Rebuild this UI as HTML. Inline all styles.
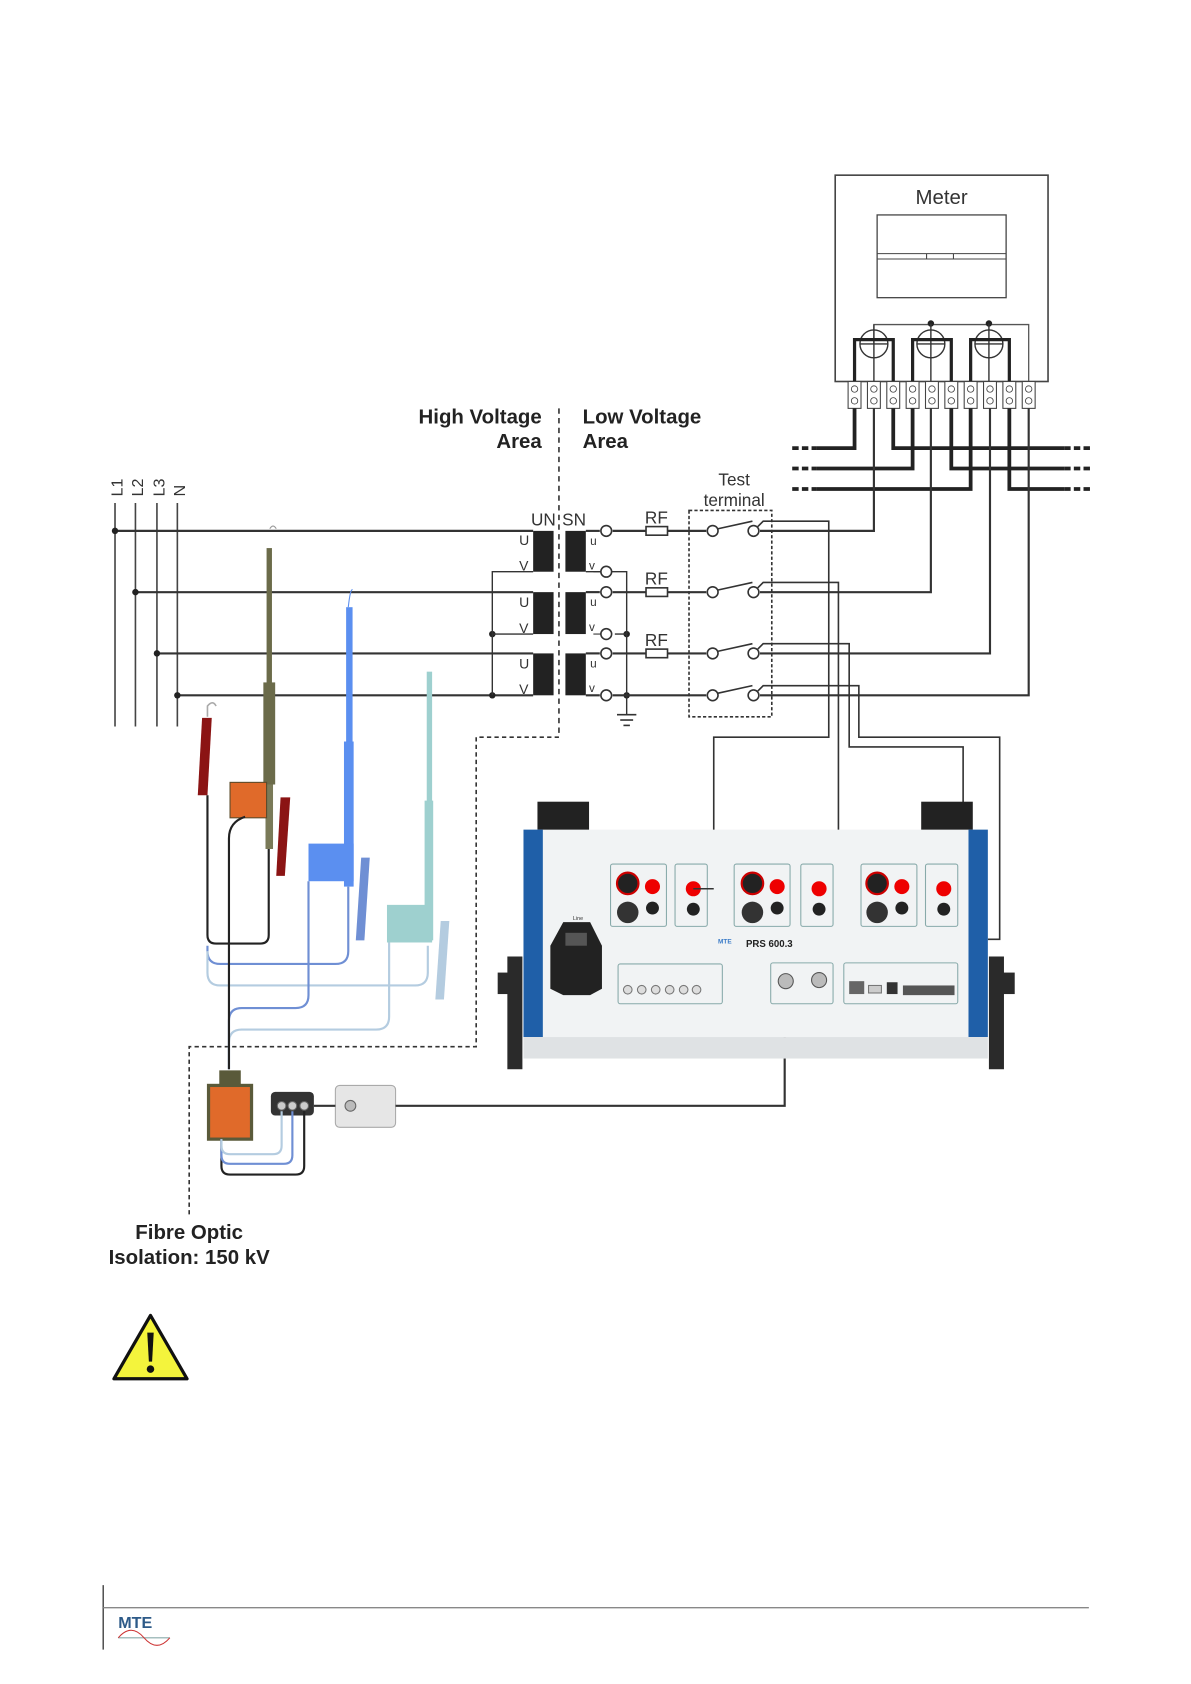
<!DOCTYPE html>
<html><head><meta charset="utf-8"><style>
html,body{margin:0;padding:0;background:#fff}
svg{display:block}
text{font-family:"Liberation Sans",sans-serif}
</style></head><body>
<svg width="1191" height="1684" viewBox="0 0 1108 1567" preserveAspectRatio="none" xmlns="http://www.w3.org/2000/svg">
<rect width="1108" height="1567" fill="#fff"/>
<!-- Meter -->
<rect x="777" y="163" width="198" height="192" fill="#fff" stroke="#444" stroke-width="1.5"/>
<text x="876" y="190" font-size="19" text-anchor="middle" fill="#333">Meter</text>
<rect x="816" y="200" width="120" height="77" fill="#fff" stroke="#444" stroke-width="1.2"/>
<line x1="816" y1="236" x2="936" y2="236" stroke="#444"/><line x1="816" y1="241" x2="936" y2="241" stroke="#444"/>
<line x1="862" y1="236" x2="862" y2="241" stroke="#444"/><line x1="887" y1="236" x2="887" y2="241" stroke="#444"/>
<polyline points="813,320 813,302 957,302 957,355" fill="none" stroke="#555" stroke-width="1.2"/>
<circle cx="866" cy="301" r="3" fill="#222"/><circle cx="920" cy="301" r="3" fill="#222"/>
<g fill="none" stroke="#333" stroke-width="1.3">
<circle cx="813" cy="320" r="13"/><circle cx="866" cy="320" r="13"/><circle cx="920" cy="320" r="13"/>
<line x1="800" y1="320" x2="826" y2="320"/><line x1="853" y1="320" x2="879" y2="320"/><line x1="907" y1="320" x2="933" y2="320"/>
<line x1="866" y1="301" x2="866" y2="355"/><line x1="920" y1="301" x2="920" y2="355"/><line x1="813" y1="302" x2="813" y2="355"/>
</g>
<g fill="none" stroke="#222" stroke-width="3">
<polyline points="795,355 795,316 831,316 831,355"/>
<polyline points="849,355 849,316 885,316 885,355"/>
<polyline points="903,355 903,316 939,316 939,355"/>
</g>
<g fill="#fff" stroke="#444" stroke-width="1">
<rect x="789" y="355" width="12" height="25"/><rect x="807" y="355" width="12" height="25"/><rect x="825" y="355" width="12" height="25"/><rect x="843" y="355" width="12" height="25"/><rect x="861" y="355" width="12" height="25"/><rect x="879" y="355" width="12" height="25"/><rect x="897" y="355" width="12" height="25"/><rect x="915" y="355" width="12" height="25"/><rect x="933" y="355" width="12" height="25"/><rect x="951" y="355" width="12" height="25"/>
</g>
<g fill="none" stroke="#444" stroke-width="0.8">
<circle cx="795" cy="362" r="3"/><circle cx="795" cy="373" r="3"/><circle cx="813" cy="362" r="3"/><circle cx="813" cy="373" r="3"/><circle cx="831" cy="362" r="3"/><circle cx="831" cy="373" r="3"/><circle cx="849" cy="362" r="3"/><circle cx="849" cy="373" r="3"/><circle cx="867" cy="362" r="3"/><circle cx="867" cy="373" r="3"/><circle cx="885" cy="362" r="3"/><circle cx="885" cy="373" r="3"/><circle cx="903" cy="362" r="3"/><circle cx="903" cy="373" r="3"/><circle cx="921" cy="362" r="3"/><circle cx="921" cy="373" r="3"/><circle cx="939" cy="362" r="3"/><circle cx="939" cy="373" r="3"/><circle cx="957" cy="362" r="3"/><circle cx="957" cy="373" r="3"/>
</g>
<!-- bus lines -->
<g fill="none" stroke="#222" stroke-width="3.5">
<polyline points="760,417 795,417 795,380"/>
<polyline points="760,436 849,436 849,380"/>
<polyline points="760,455 903,455 903,380"/>
<polyline points="831,380 831,417 990,417"/>
<polyline points="885,380 885,436 990,436"/>
<polyline points="939,380 939,455 990,455"/>
</g>
<g stroke="#222" stroke-width="3.5" stroke-dasharray="6,3">
<line x1="737" y1="417" x2="760" y2="417"/><line x1="737" y1="436" x2="760" y2="436"/><line x1="737" y1="455" x2="760" y2="455"/>
<line x1="990" y1="417" x2="1014" y2="417"/><line x1="990" y1="436" x2="1014" y2="436"/><line x1="990" y1="455" x2="1014" y2="455"/>
</g>
<!-- labels -->
<text x="504" y="394" font-size="19" font-weight="bold" text-anchor="end" fill="#222">High Voltage</text>
<text x="504" y="417" font-size="19" font-weight="bold" text-anchor="end" fill="#222">Area</text>
<text x="542" y="394" font-size="19" font-weight="bold" fill="#222">Low Voltage</text>
<text x="542" y="417" font-size="19" font-weight="bold" fill="#222">Area</text>
<text x="683" y="452" font-size="16" text-anchor="middle" fill="#333">Test</text>
<text x="683" y="471" font-size="16" text-anchor="middle" fill="#333">terminal</text>
<g font-size="15" fill="#333">
<text transform="translate(114,462) rotate(-90)">L1</text>
<text transform="translate(133,462) rotate(-90)">L2</text>
<text transform="translate(153,462) rotate(-90)">L3</text>
<text transform="translate(172,462) rotate(-90)">N</text>
</g>
<!-- phase verticals -->
<g stroke="#444" stroke-width="1.5">
<line x1="107" y1="468" x2="107" y2="676"/><line x1="126" y1="468" x2="126" y2="676"/><line x1="146" y1="468" x2="146" y2="676"/><line x1="165" y1="468" x2="165" y2="676"/>
</g>
<!-- phase horizontals -->
<g stroke="#333" stroke-width="2">
<line x1="107" y1="494" x2="496" y2="494"/><line x1="126" y1="551" x2="496" y2="551"/><line x1="146" y1="608" x2="496" y2="608"/><line x1="165" y1="647" x2="496" y2="647"/>
</g>
<g fill="#222"><circle cx="107" cy="494" r="3"/><circle cx="126" cy="551" r="3"/><circle cx="146" cy="608" r="3"/><circle cx="165" cy="647" r="3"/><circle cx="458" cy="590" r="3"/><circle cx="458" cy="647" r="3"/><circle cx="583" cy="590" r="3"/><circle cx="583" cy="647" r="3"/></g>
<g fill="none" stroke="#333" stroke-width="1.3">
<polyline points="496,532 458,532 458,647"/>
<line x1="458" y1="590" x2="496" y2="590"/>
<polyline points="545,532 583,532 583,665"/>
<line x1="572" y1="590" x2="583" y2="590"/>
</g>
<g stroke="#333" stroke-width="1.5"><line x1="574" y1="665" x2="592" y2="665"/><line x1="577" y1="670" x2="589" y2="670"/><line x1="580" y1="675" x2="586" y2="675"/></g>
<!-- transformers -->
<g fill="#222">
<rect x="496" y="494" width="19" height="38"/><rect x="526" y="494" width="19" height="38"/>
<rect x="496" y="551" width="19" height="39"/><rect x="526" y="551" width="19" height="39"/>
<rect x="496" y="608" width="19" height="39"/><rect x="526" y="608" width="19" height="39"/>
</g>
<g font-size="13" fill="#333">
<text x="483" y="507">U</text><text x="483" y="531">V</text><text x="483" y="565">U</text><text x="483" y="589">V</text><text x="483" y="622">U</text><text x="483" y="646">V</text>
<text x="549" y="507" font-size="11">u</text><text x="548" y="530" font-size="11">v</text><text x="549" y="564" font-size="11">u</text><text x="548" y="587" font-size="11">v</text><text x="549" y="621" font-size="11">u</text><text x="548" y="644" font-size="11">v</text>
</g>
<text x="494" y="489" font-size="16" fill="#333">UN</text><text x="523" y="489" font-size="16" fill="#333">SN</text>
<!-- secondary lines -->
<g stroke="#333" stroke-width="2" fill="none">
<line x1="545" y1="494" x2="558" y2="494"/><line x1="545" y1="551" x2="558" y2="551"/><line x1="545" y1="608" x2="558" y2="608"/><line x1="545" y1="647" x2="558" y2="647"/>
<line x1="570" y1="494" x2="657" y2="494"/><line x1="570" y1="551" x2="657" y2="551"/><line x1="570" y1="608" x2="657" y2="608"/><line x1="570" y1="647" x2="657" y2="647"/>
<polyline points="707,494 813,494 813,380"/>
<polyline points="707,551 866,551 866,380"/>
<polyline points="707,608 921,608 921,380"/>
<polyline points="707,647 957,647 957,380"/>
</g>
<g fill="#fff" stroke="#333" stroke-width="1.5">
<circle cx="564" cy="494" r="5"/><circle cx="564" cy="532" r="5"/><circle cx="564" cy="551" r="5"/><circle cx="564" cy="590" r="5"/><circle cx="564" cy="608" r="5"/><circle cx="564" cy="647" r="5"/>
<rect x="601" y="490" width="20" height="8"/><rect x="601" y="547" width="20" height="8"/><rect x="601" y="604" width="20" height="8"/>
</g>
<g font-size="16" fill="#333"><text x="600" y="487">RF</text><text x="600" y="544">RF</text><text x="600" y="601">RF</text></g>
<line x1="552" y1="532" x2="559" y2="532" stroke="#333"/><line x1="552" y1="590" x2="559" y2="590" stroke="#333"/>
<!-- test terminal -->
<rect x="641" y="475" width="77" height="192" fill="none" stroke="#333" stroke-width="1.5" stroke-dasharray="3,2"/>
<g fill="#fff" stroke="#333" stroke-width="1.5">
<circle cx="663" cy="494" r="5"/><circle cx="701" cy="494" r="5"/><circle cx="663" cy="551" r="5"/><circle cx="701" cy="551" r="5"/><circle cx="663" cy="608" r="5"/><circle cx="701" cy="608" r="5"/><circle cx="663" cy="647" r="5"/><circle cx="701" cy="647" r="5"/>
</g>
<g stroke="#333" stroke-width="1.5" fill="none">
<line x1="668" y1="492" x2="700" y2="485"/><line x1="668" y1="549" x2="700" y2="542"/><line x1="668" y1="606" x2="700" y2="599"/><line x1="668" y1="645" x2="700" y2="638"/>
<polyline points="705,490 710,485 771,485 771,686 664,686 664,827 645,827"/>
<polyline points="705,547 710,542 780,542 780,827 762,827"/>
<polyline points="705,604 710,599 790,599 790,695 896,695 896,827 878,827"/>
<polyline points="705,643 710,638 799,638 799,686 930,686 930,874 762,874 762,846"/>
<polyline points="645,846 660,862 742,862 762,846 778,862 862,862 878,846"/>
</g>
<!-- HV dashed boundary -->
<g stroke="#333" stroke-width="1.5" fill="none">
<line x1="520" y1="380" x2="520" y2="686" stroke-dasharray="5,4"/>
<polyline points="520,686 443,686 443,974 176,974 176,1130" stroke-dasharray="4,3"/>
</g>
<!-- probes -->
<g>
<path d="M251,492 q3,-5 6,0" fill="none" stroke="#999"/>
<rect x="248" y="510" width="5" height="130" fill="#6b6b4a"/>
<rect x="245" y="635" width="11" height="95" fill="#6b6b4a"/>
<rect x="247" y="730" width="7" height="60" fill="#7a7a58"/>
<rect x="214" y="728" width="34" height="33" fill="#e06a2a" stroke="#5a4a2a"/>
<polygon points="261,742 270,742 265,815 257,815" fill="#8b1414"/>
<polygon points="188,668 197,668 193,740 184,740" fill="#8b1414"/>
<path d="M193,667 v-10 q5,-6 8,0" fill="none" stroke="#aaa" stroke-width="1.5"/>
<rect x="322" y="565" width="6" height="130" fill="#5b8ff0"/>
<rect x="320" y="690" width="9" height="135" fill="#5b8ff0"/>
<rect x="287" y="785" width="42" height="35" fill="#5b8ff0"/>
<polygon points="336,798 344,798 339,875 331,875" fill="#6f8fd4"/>
<path d="M324,565 q2,-18 4,-16" fill="none" stroke="#5b8ff0"/>
<rect x="397" y="625" width="5" height="125" fill="#9ed0cf"/>
<rect x="395" y="745" width="8" height="130" fill="#9ed0cf"/>
<rect x="360" y="842" width="42" height="35" fill="#9ed0cf"/>
<polygon points="410,857 418,857 413,930 405,930" fill="#b4cce0"/>
</g>
<g fill="none" stroke-width="2">
<path d="M193,740 V870 q0,8 8,8 H242 q8,0 8,-8 V790" stroke="#222"/>
<path d="M193,880 v5 q0,12 12,12 H312 q12,0 12,-12 V825" stroke="#6f8fd4"/>
<path d="M193,885 v20 q0,12 12,12 H386 q12,0 12,-12 V880" stroke="#b4cce0"/>
<path d="M213,995 V950 q0,-12 12,-12 H275 q12,0 12,-12 V820" stroke="#6f8fd4"/>
<path d="M213,995 V970 q0,-12 12,-12 H350 q12,0 12,-12 V877" stroke="#b4cce0"/>
<path d="M228,760 q-15,5 -15,20 V995" stroke="#222"/>
</g>
<!-- SLC -->
<rect x="204" y="996" width="20" height="20" fill="#5a5a3a"/>
<rect x="194" y="1010" width="40" height="50" fill="#e06a2a" stroke="#5a5a3a" stroke-width="3"/>
<rect x="252" y="1016" width="40" height="22" rx="4" fill="#333"/>
<circle cx="262" cy="1029" r="4" fill="#ccc" stroke="#666"/><circle cx="272" cy="1029" r="4" fill="#ccc" stroke="#666"/><circle cx="283" cy="1029" r="4" fill="#ccc" stroke="#666"/>
<rect x="312" y="1010" width="56" height="39" rx="4" fill="#e6e6e6" stroke="#aaa"/>
<circle cx="326" cy="1029" r="5" fill="#bbb" stroke="#666"/>
<g fill="none" stroke-width="2">
<path d="M206,1060 V1085 q0,8 8,8 H275 q8,0 8,-8 V1034" stroke="#222"/>
<path d="M206,1060 V1075 q0,8 8,8 H264 q8,0 8,-8 V1034" stroke="#6f8fd4"/>
<path d="M206,1060 V1066 q0,8 8,8 H254 q8,0 8,-8 V1034" stroke="#b4cce0"/>
<line x1="292" y1="1029" x2="312" y2="1029" stroke="#333"/>
<polyline points="368,1029 730,1029 730,915" stroke="#333"/>
</g>
<text x="176" y="1153" font-size="19" font-weight="bold" text-anchor="middle" fill="#222">Fibre Optic</text>
<text x="176" y="1176" font-size="19" font-weight="bold" text-anchor="middle" fill="#222">Isolation: 150 kV</text>
<!-- PRS device -->
<rect x="500" y="746" width="48" height="28" fill="#222"/>
<rect x="857" y="746" width="48" height="28" fill="#222"/>
<rect x="487" y="772" width="432" height="193" fill="#f1f3f4"/>
<rect x="487" y="772" width="18" height="193" fill="#1f5fa8"/>
<rect x="901" y="772" width="18" height="193" fill="#1f5fa8"/>
<rect x="487" y="965" width="432" height="20" fill="#dfe2e4"/>
<path d="M472,890 h14 v105 h-14 z" fill="#2a2a2a"/>
<path d="M920,890 h14 v105 h-14 z" fill="#2a2a2a"/>
<rect x="463" y="905" width="12" height="20" fill="#2a2a2a"/><rect x="932" y="905" width="12" height="20" fill="#2a2a2a"/>
<g fill="none" stroke="#8aa" stroke-width="1">
<rect x="568" y="804" width="52" height="58" rx="2"/><rect x="628" y="804" width="30" height="58" rx="2"/>
<rect x="683" y="804" width="52" height="58" rx="2"/><rect x="745" y="804" width="30" height="58" rx="2"/>
<rect x="801" y="804" width="52" height="58" rx="2"/><rect x="861" y="804" width="30" height="58" rx="2"/>
<rect x="575" y="897" width="97" height="37" rx="2"/><rect x="717" y="896" width="58" height="38" rx="2"/><rect x="785" y="896" width="106" height="38" rx="2"/>
</g>
<g>
<circle cx="584" cy="822" r="10" fill="#222" stroke="#c00" stroke-width="2"/><circle cx="584" cy="849" r="10" fill="#333"/>
<circle cx="607" cy="825" r="7" fill="#e00"/><circle cx="607" cy="845" r="6" fill="#222"/>
<circle cx="645" cy="827" r="7" fill="#e00"/><circle cx="645" cy="846" r="6" fill="#222"/>
<circle cx="700" cy="822" r="10" fill="#222" stroke="#c00" stroke-width="2"/><circle cx="700" cy="849" r="10" fill="#333"/>
<circle cx="723" cy="825" r="7" fill="#e00"/><circle cx="723" cy="845" r="6" fill="#222"/>
<circle cx="762" cy="827" r="7" fill="#e00"/><circle cx="762" cy="846" r="6" fill="#222"/>
<circle cx="816" cy="822" r="10" fill="#222" stroke="#c00" stroke-width="2"/><circle cx="816" cy="849" r="10" fill="#333"/>
<circle cx="839" cy="825" r="7" fill="#e00"/><circle cx="839" cy="845" r="6" fill="#222"/>
<circle cx="878" cy="827" r="7" fill="#e00"/><circle cx="878" cy="846" r="6" fill="#222"/>
</g>
<polygon points="524,858 549,858 560,880 560,920 549,926 524,926 512,920 512,880" fill="#222"/>
<rect x="526" y="868" width="20" height="12" fill="#555"/>
<text x="533" y="856" font-size="5" fill="#333">Line</text>
<text x="668" y="878" font-size="6" font-weight="bold" fill="#3a7bc8">MTE</text>
<text x="694" y="881" font-size="9" font-weight="bold" fill="#222">PRS 600.3</text>
<g fill="#ddd" stroke="#777"><circle cx="584" cy="921" r="4"/><circle cx="597" cy="921" r="4"/><circle cx="610" cy="921" r="4"/><circle cx="623" cy="921" r="4"/><circle cx="636" cy="921" r="4"/><circle cx="648" cy="921" r="4"/></g>
<circle cx="731" cy="913" r="7" fill="#bbb" stroke="#555"/><circle cx="762" cy="912" r="7" fill="#bbb" stroke="#555"/>
<rect x="790" y="913" width="14" height="12" fill="#666"/><rect x="808" y="917" width="12" height="7" fill="#ccc" stroke="#777"/><rect x="825" y="914" width="10" height="11" fill="#333"/><rect x="840" y="917" width="48" height="9" fill="#555"/>
<line x1="645" y1="827" x2="664" y2="827" stroke="#333" stroke-width="1.5"/>
<!-- warning -->
<path d="M140,1224 L174,1283 L106,1283 Z" fill="#f4f43c" stroke="#111" stroke-width="3" stroke-linejoin="round"/>
<path d="M137,1240 h6 l-1.5,27 h-3 z" fill="#111"/><circle cx="140" cy="1274" r="3.5" fill="#111"/>
<!-- footer -->
<line x1="96" y1="1475" x2="96" y2="1535" stroke="#333" stroke-width="1.2"/>
<line x1="96" y1="1496" x2="1013" y2="1496" stroke="#888" stroke-width="1.2"/>
<text x="110" y="1515" font-size="15" font-weight="bold" fill="#2d5a88">MTE</text>
<line x1="110" y1="1524" x2="158" y2="1524" stroke="#8aa" stroke-width="1"/>
<path d="M110,1524 q12,-14 24,0 t24,0" fill="none" stroke="#c33" stroke-width="1"/>
</svg>
</body></html>
